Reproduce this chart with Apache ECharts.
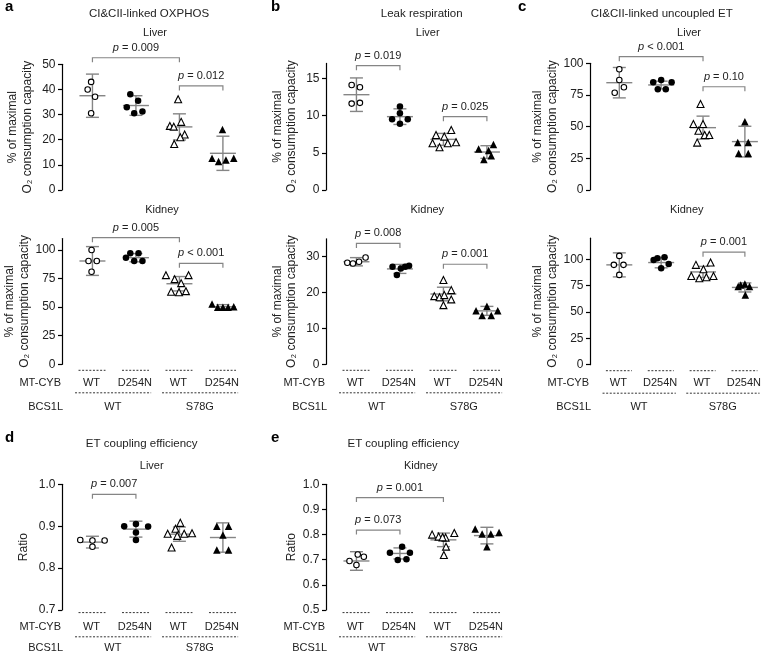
<!DOCTYPE html>
<html><head><meta charset="utf-8">
<script src="https://cdn.jsdelivr.net/npm/echarts@6/dist/echarts.min.js"></script>
<style>html,body{margin:0;padding:0;background:#fff}#c{width:770px;height:654px}</style>
</head><body><div id="c"></div>
<script>
// ---------- DATA ----------
const mtCybLabels = ['WT', 'D254N', 'WT', 'D254N'];
const bcs1lLabels = ['WT', 'S78G'];
const o2Name = '% of maximal\nO\u2082 consumption capacity';

// a – CI&CII-linked OXPHOS
const aLiverTicks = [0, 10, 20, 30, 40, 50];
const aLiverValues = [[43.0, 40.0, 37.1, 30.5], [38.1, 35.5, 32.9, 31.2, 30.5], [36.1, 27.1, 25.5, 25.2, 22.1, 21.0, 18.3], [24.1, 12.6, 11.3, 11.9, 12.6]];
const aLiverJitter = [[-0.03, -0.11, 0.06, -0.03], [-0.13, 0.05, -0.21, 0.15, -0.04], [-0.03, 0.04, -0.22, -0.13, 0.12, 0.02, -0.12], [-0.01, -0.25, -0.10, 0.07, 0.25]];
const aLiverMean = [37.5, 33.6, 25.1, 14.6];
const aLiverSD = [8.6, 3.9, 5.2, 6.8];
const aLiverP = [[1, 3, 52.6, '= 0.009'], [3, 4, 41.4, '= 0.012']];

const aKidneyTicks = [0, 25, 50, 75, 100];
const aKidneyValues = [[100, 90.4, 90.4, 81.0], [97.1, 97.1, 93.3, 90.4, 90.4], [78, 78, 74.5, 71, 63.5, 63, 64], [52.8, 49.9, 49.9, 49.9, 50.4]];
const aKidneyJitter = [[-0.02, -0.09, 0.10, -0.02], [-0.13, 0.06, -0.23, -0.04, 0.15], [-0.31, 0.21, -0.11, 0.04, -0.19, -0.01, 0.15], [-0.25, -0.12, 0, 0.12, 0.25]];
const aKidneyMean = [90.4, 93.3, 70.5, 50.4];
const aKidneySD = [12.6, 3.6, 6.3, 1.8];
const aKidneyP = [[1, 3, 110.8, '= 0.005'], [3, 4, 88.4, '< 0.001']];

// b – Leak respiration
const bLiverTicks = [0, 5, 10, 15];
const bLiverValues = [[14.1, 13.8, 11.6, 11.7], [11.2, 10.3, 9.5, 9.5, 8.9], [8.06, 7.39, 7.17, 6.27, 6.27, 6.41, 5.74], [6.1, 5.5, 5.3, 4.6, 4.1]];
const bLiverJitter = [[-0.11, 0.08, -0.11, 0.08], [0, 0, -0.18, 0.18, 0], [0.18, -0.17, 0.02, -0.25, 0.10, 0.29, -0.09], [0.15, -0.19, 0.04, 0.1, -0.07]];
const bLiverMean = [12.8, 9.85, 6.8, 5.1];
const bLiverSD = [2.25, 1.05, 0.8, 0.85];
const bLiverP = [[1, 2, 16.7, '= 0.019'], [3, 4, 9.85, '= 0.025']];

const bKidneyTicks = [0, 10, 20, 30];
const bKidneyValues = [[28.3, 28.1, 28.6, 29.8], [27.2, 26.7, 27.2, 27.5, 24.9], [23.5, 20.7, 19.0, 18.7, 19.3, 18.1, 16.5], [16.2, 14.9, 14.9, 13.6, 13.6]];
const bKidneyJitter = [[-0.21, -0.08, 0.06, 0.21], [-0.17, 0.02, 0.12, 0.21, -0.07], [0, 0.18, -0.21, -0.09, 0.02, 0.18, 0], [0, -0.25, 0.25, -0.11, 0.10]];
const bKidneyMean = [28.6, 26.6, 19.6, 14.9];
const bKidneySD = [1.15, 1.25, 1.9, 1.25];
const bKidneyP = [[1, 2, 33.7, '= 0.008'], [3, 4, 27.9, '= 0.001']];

// c – CI&CII-linked uncoupled ET
const cLiverTicks = [0, 25, 50, 75, 100];
const cLiverValues = [[95.3, 86.8, 81.1, 76.8], [86.8, 85, 85, 79.5, 79.5], [67.9, 52.1, 52.1, 46.8, 43.4, 43.4, 37.4], [53.9, 37.4, 37.4, 28.9, 28.9]];
const cLiverJitter = [[0, 0, 0.11, -0.11], [0, -0.19, 0.25, -0.08, 0.11], [-0.06, -0.23, 0, -0.11, 0.04, 0.15, -0.14], [0, -0.17, 0.08, -0.15, 0.08]];
const cLiverMean = [84.7, 82.9, 49.2, 38.2];
const cLiverSD = [12, 3, 9.1, 12.1];
const cLiverP = [[1, 3, 105.2, '< 0.001'], [3, 4, 81.5, '= 0.10']];

const cKidneyTicks = [0, 25, 50, 75, 100];
const cKidneyValues = [[103.2, 94.7, 94.7, 85.2], [99.4, 101, 102, 95.6, 91.5], [96.9, 94.7, 90.6, 84.2, 82, 83, 84.2], [75.5, 74.2, 76.5, 74.2, 66.2]];
const cKidneyJitter = [[0, -0.13, 0.10, 0], [-0.18, -0.09, 0.08, 0.18, 0], [0.18, -0.17, 0.01, -0.28, -0.09, 0.08, 0.25], [-0.1, -0.16, 0, 0.11, 0.01]];
const cKidneyMean = [94.7, 96.9, 88, 73.3];
const cKidneySD = [11.4, 5, 5.3, 4.3];
const cKidneyP = [[3, 4, 106.7, '= 0.001']];

// d – ET coupling efficiency, liver
const dTicks = [0.7, 0.8, 0.9, 1.0];
const dValues = [[0.867, 0.866, 0.866, 0.851], [0.900, 0.905, 0.899, 0.885, 0.867], [0.908, 0.894, 0.882, 0.877, 0.882, 0.883, 0.849], [0.900, 0.900, 0.879, 0.843, 0.843]];
const dJitter = [[-0.28, 0, 0.28, 0], [-0.27, 0, 0.28, 0, 0], [0.02, -0.09, -0.27, -0.05, 0.11, 0.29, -0.18], [-0.14, 0.13, 0, -0.14, 0.13]];
const dMean = [0.862, 0.893, 0.881, 0.873];
const dSD = [0.014, 0.019, 0.017, 0.035];
const dP = [[1, 2, 0.976, '= 0.007']];

// e – ET coupling efficiency, kidney
const eTicks = [0.5, 0.6, 0.7, 0.8, 0.9, 1.0];
const eValues = [[0.721, 0.712, 0.695, 0.679], [0.728, 0.752, 0.728, 0.699, 0.702], [0.800, 0.792, 0.788, 0.789, 0.806, 0.752, 0.719], [0.822, 0.802, 0.802, 0.808, 0.752]];
const eJitter = [[0.03, 0.17, -0.16, 0], [-0.23, 0.05, 0.23, -0.05, 0.15], [-0.26, -0.11, 0.05, -0.02, 0.25, 0.06, 0.01], [-0.27, -0.11, 0.09, 0.28, 0]];
const eMean = [0.695, 0.725, 0.779, 0.796];
const eSD = [0.037, 0.022, 0.027, 0.033];
const eP = [[1, 3, 0.947, '= 0.001'], [1, 2, 0.818, '= 0.073']];

// ---------- LAYOUT / STYLE ----------
const FONT = '"Liberation Sans", Arial, Helvetica, sans-serif';
const TXT = '#222';
const BAR = '#858585';
const LAB_TOP = { dash: 6, text: 18.5, long: 28.5, group: 42.2 };
const LAB_BOT = { dash: 2.6, text: 16.7, long: 26.8, group: 38.3 };
const fmt1 = v => v.toFixed(1);

const panels = [
  { v: aLiverValues, j: aLiverJitter, m: aLiverMean, s: aLiverSD, p: aLiverP, t: aLiverTicks, min: 0, max: 50, left: 62, top: 64.3, h: 125.7, name: o2Name, gap: 27.5 },
  { v: aKidneyValues, j: aKidneyJitter, m: aKidneyMean, s: aKidneySD, p: aKidneyP, t: aKidneyTicks, min: 0, max: 110, left: 62, top: 238.6, h: 125.7, name: o2Name, gap: 27.5, lab: LAB_TOP },
  { v: bLiverValues, j: bLiverJitter, m: bLiverMean, s: bLiverSD, p: bLiverP, t: bLiverTicks, min: 0, max: 17, left: 326, top: 63.4, h: 126.6, name: o2Name, gap: 27 },
  { v: bKidneyValues, j: bKidneyJitter, m: bKidneyMean, s: bKidneySD, p: bKidneyP, t: bKidneyTicks, min: 0, max: 35, left: 326, top: 238.8, h: 125.5, name: o2Name, gap: 27, lab: LAB_TOP },
  { v: cLiverValues, j: cLiverJitter, m: cLiverMean, s: cLiverSD, p: cLiverP, t: cLiverTicks, min: 0, max: 100, left: 590, top: 63.3, h: 126.7, name: o2Name, gap: 30.5 },
  { v: cKidneyValues, j: cKidneyJitter, m: cKidneyMean, s: cKidneySD, p: cKidneyP, t: cKidneyTicks, min: 0, max: 120, left: 590, top: 238.2, h: 126.5, name: o2Name, gap: 30.5, lab: LAB_TOP },
  { v: dValues, j: dJitter, m: dMean, s: dSD, p: dP, t: dTicks, min: 0.7, max: 1.0, left: 62, top: 484.3, h: 125.7, name: 'Ratio', gap: 31, fmt: fmt1, lab: LAB_BOT },
  { v: eValues, j: eJitter, m: eMean, s: eSD, p: eP, t: eTicks, min: 0.5, max: 1.0, left: 326, top: 484.3, h: 125.7, name: 'Ratio', gap: 26.5, fmt: fmt1, lab: LAB_BOT }
];

const SYM = [
  { symbol: 'circle', size: 5.5, color: '#fff', bw: 1.1 },
  { symbol: 'circle', size: 6.5, color: '#000', bw: 0 },
  { symbol: 'triangle', size: 7, color: '#fff', bw: 1.1 },
  { symbol: 'triangle', size: 7.5, color: '#000', bw: 0 }
];

function txt(text, x, y, opt) {
  opt = opt || {};
  const align = opt.align || 'center';
  return {
    type: 'text', x: x, y: y, silent: true,
    style: {
      text: text, x: 0, y: 0,
      fontSize: opt.size || 11, fontFamily: FONT, fontWeight: opt.weight || 'normal',
      fill: opt.color || TXT,
      textAlign: align, align: align, textVerticalAlign: 'middle', verticalAlign: 'middle'
    }
  };
}

const grid = [], xAxis = [], yAxis = [], series = [];

panels.forEach((P, i) => {
  grid.push({ left: P.left, top: P.top, width: 187, height: P.h });
  xAxis.push({ type: 'value', gridIndex: i, min: 0.3, max: 4.6, show: false });
  yAxis.push({
    type: 'value', gridIndex: i, min: P.min, max: P.max,
    axisLine: { show: true, lineStyle: { color: '#000', width: 1.2 } },
    axisTick: { show: true, length: 4, lineStyle: { color: '#000', width: 1.2 }, customValues: P.t },
    axisLabel: { customValues: P.t, margin: 6.5, fontSize: 12, color: TXT, fontFamily: FONT, formatter: P.fmt || (v => String(v)) },
    splitLine: { show: false },
    name: P.name, nameLocation: 'middle', nameGap: P.gap,
    nameTextStyle: { fontSize: 12, lineHeight: 14.5, color: TXT, fontFamily: FONT }
  });

  // mean ± SD bars
  series.push({
    type: 'custom', xAxisIndex: i, yAxisIndex: i, clip: false, silent: true, z: 2,
    data: P.m.map((m, g) => [g + 1, m, P.s[g]]),
    renderItem(params, api) {
      const x = api.value(0), m = api.value(1), s = api.value(2);
      const c = api.coord([x, m]), t = api.coord([x, m + s]), b = api.coord([x, m - s]);
      const st = { stroke: BAR, lineWidth: 1.4 };
      return {
        type: 'group', children: [
          { type: 'line', shape: { x1: c[0] - 13, y1: c[1], x2: c[0] + 13, y2: c[1] }, style: st },
          { type: 'line', shape: { x1: t[0], y1: t[1], x2: b[0], y2: b[1] }, style: st },
          { type: 'line', shape: { x1: t[0] - 6.5, y1: t[1], x2: t[0] + 6.5, y2: t[1] }, style: st },
          { type: 'line', shape: { x1: b[0] - 6.5, y1: b[1], x2: b[0] + 6.5, y2: b[1] }, style: st }
        ]
      };
    }
  });

  // points
  P.v.forEach((vals, g) => {
    const S = SYM[g];
    series.push({
      type: 'scatter', xAxisIndex: i, yAxisIndex: i, z: 3, silent: true,
      symbol: S.symbol, symbolSize: S.size,
      itemStyle: { color: S.color, borderColor: '#000', borderWidth: S.bw, opacity: 1 },
      data: vals.map((v, k) => [g + 1 + P.j[g][k], v])
    });
  });

  // p-value brackets
  const pTexts = P.p.map(q => q[3]);
  series.push({
    type: 'custom', xAxisIndex: i, yAxisIndex: i, clip: false, silent: true, z: 2,
    data: P.p.map(q => [q[0], q[1], q[2]]),
    renderItem(params, api) {
      const a = api.coord([api.value(0), api.value(2)]);
      const b = api.coord([api.value(1), api.value(2)]);
      return {
        type: 'group', children: [
          { type: 'polyline', shape: { points: [[a[0], a[1] + 4.5], [a[0], a[1]], [b[0], b[1]], [b[0], b[1] + 4.5]] }, style: { stroke: BAR, lineWidth: 1.2, fill: null } },
          {
            type: 'text', style: {
              text: '{i|p} ' + pTexts[params.dataIndex], x: (a[0] + b[0]) / 2, y: a[1] - 10,
              fontSize: 11, fontFamily: FONT, fill: TXT,
              textAlign: 'center', align: 'center', textVerticalAlign: 'middle', verticalAlign: 'middle',
              rich: { i: { fontStyle: 'italic', fontSize: 11, fontFamily: FONT, fill: TXT } }
            }
          }
        ]
      };
    }
  });

  // genotype rows under the axis
  if (P.lab) {
    const L = P.lab;
    const dashStyle = { stroke: '#333', lineWidth: 1, lineDash: [2, 1.6] };
    series.push({
      type: 'custom', xAxisIndex: i, yAxisIndex: i, clip: false, silent: true,
      data: mtCybLabels.map((l, g) => [g + 1, P.min]),
      renderItem(params, api) {
        const x = api.value(0), y = api.value(1);
        const c = api.coord([x, y]), l = api.coord([x - 0.32, y]), r = api.coord([x + 0.3, y]);
        const ch = [
          { type: 'line', shape: { x1: l[0], y1: c[1] + L.dash, x2: r[0], y2: c[1] + L.dash }, style: dashStyle },
          txt(mtCybLabels[params.dataIndex], c[0] - 1, c[1] + L.text)
        ];
        if (params.dataIndex === 0) ch.push(txt('MT-CYB', params.coordSys.x - 1, c[1] + L.text, { align: 'right' }));
        return { type: 'group', children: ch };
      }
    });
    series.push({
      type: 'custom', xAxisIndex: i, yAxisIndex: i, clip: false, silent: true,
      data: bcs1lLabels.map((l, k) => [2 * k + 1, 2 * k + 2, P.min]),
      renderItem(params, api) {
        const x1 = api.value(0), x2 = api.value(1), y = api.value(2);
        const a = api.coord([x1 - 0.4, y]), b = api.coord([x2 + 0.35, y]);
        const m = api.coord([(x1 + x2) / 2 - 0.03, y]);
        const ch = [
          { type: 'line', shape: { x1: a[0], y1: a[1] + L.long, x2: b[0], y2: b[1] + L.long }, style: dashStyle },
          txt(bcs1lLabels[params.dataIndex], m[0], m[1] + L.group)
        ];
        if (params.dataIndex === 0) ch.push(txt('BCS1L', params.coordSys.x + 1, a[1] + L.group, { align: 'right' }));
        return { type: 'group', children: ch };
      }
    });
  }
});

const graphic = [
  txt('a', 5, 7, { size: 15, weight: 'bold', align: 'left', color: '#000' }),
  txt('b', 271, 7, { size: 15, weight: 'bold', align: 'left', color: '#000' }),
  txt('c', 518, 7, { size: 15, weight: 'bold', align: 'left', color: '#000' }),
  txt('d', 5, 438, { size: 15, weight: 'bold', align: 'left', color: '#000' }),
  txt('e', 271, 438, { size: 15, weight: 'bold', align: 'left', color: '#000' }),
  txt('CI&CII-linked OXPHOS', 149, 13.5, { size: 11.5 }),
  txt('Liver', 155, 32.5),
  txt('Kidney', 162, 210),
  txt('Leak respiration', 421.7, 13.5, { size: 11.5 }),
  txt('Liver', 427.7, 32.5),
  txt('Kidney', 427.3, 210),
  txt('CI&CII-linked uncoupled ET', 661.7, 13.5, { size: 11.5 }),
  txt('Liver', 689, 32.5),
  txt('Kidney', 686.7, 210),
  txt('ET coupling efficiency', 141.7, 443.5, { size: 11.5 }),
  txt('Liver', 151.7, 466),
  txt('ET coupling efficiency', 403.3, 443.5, { size: 11.5 }),
  txt('Kidney', 420.7, 466)
];

const chart = echarts.init(document.getElementById('c'), null, { renderer: 'canvas' });
chart.setOption({
  animation: false,
  backgroundColor: '#fff',
  grid, xAxis, yAxis, series, graphic
});
</script></body></html>
